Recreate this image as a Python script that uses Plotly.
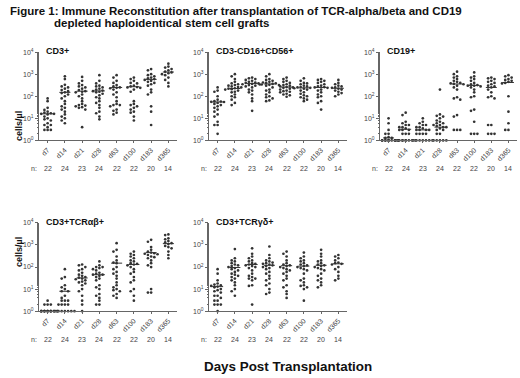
import numpy as np
import plotly.graph_objects as go

W, H = 520, 378
days = ["d7", "d14", "d21", "d28", "d63", "d100", "d183", "d365"]
n_counts = [22, 24, 23, 24, 22, 22, 20, 14]

cd3 = [
    [80, 60, 30, 24, 20, 18, 17, 16, 16, 15, 14, 12, 10, 9, 8, 6, 5, 5, 4, 3, 3, 3],
    [800, 600, 330, 280, 250, 220, 190, 170, 150, 140, 120, 100, 80, 60, 45, 35, 30, 25, 20, 15, 12, 10, 8, 6],
    [750, 500, 380, 320, 280, 250, 220, 190, 170, 160, 150, 120, 100, 80, 60, 45, 40, 38, 35, 32, 30, 25, 4],
    [900, 500, 380, 300, 280, 250, 220, 200, 180, 170, 160, 150, 130, 110, 90, 80, 60, 50, 40, 30, 20, 17, 12, 9],
    [900, 700, 500, 400, 320, 280, 250, 240, 230, 200, 150, 120, 90, 60, 45, 40, 40, 35, 25, 22, 18, 15],
    [700, 600, 500, 400, 380, 300, 280, 260, 250, 240, 200, 160, 60, 45, 40, 35, 30, 25, 20, 18, 12, 8],
    [1700, 1500, 1000, 900, 800, 700, 650, 600, 550, 500, 450, 400, 350, 300, 200, 150, 120, 35, 20, 5],
    [3000, 2200, 2000, 1700, 1500, 1300, 1200, 1100, 1000, 900, 700, 550, 400, 280],
]
cd3_med = [16, 150, 170, 175, 250, 270, 580, 1250]

nk = [
    [250, 180, 160, 100, 70, 60, 58, 56, 55, 50, 45, 40, 35, 30, 25, 20, 15, 12, 7, 5, 5, 2],
    [1000, 800, 600, 450, 380, 350, 320, 300, 280, 260, 250, 230, 220, 210, 200, 180, 160, 150, 120, 100, 90, 70, 50, 40],
    [700, 650, 600, 550, 500, 450, 420, 400, 380, 360, 350, 340, 320, 300, 280, 250, 200, 180, 150, 120, 80, 60, 22],
    [1000, 800, 600, 550, 500, 450, 420, 400, 380, 360, 340, 330, 320, 300, 250, 200, 180, 150, 120, 100, 90, 80, 65, 60],
    [700, 600, 500, 450, 400, 350, 320, 300, 280, 260, 250, 240, 220, 200, 180, 170, 160, 150, 130, 120, 110, 95],
    [650, 500, 400, 380, 350, 300, 280, 260, 250, 240, 230, 220, 200, 180, 150, 130, 110, 100, 90, 80, 70, 60],
    [600, 550, 500, 450, 400, 350, 300, 280, 260, 250, 240, 200, 180, 150, 120, 100, 90, 60, 50, 25],
    [550, 400, 350, 300, 280, 250, 240, 220, 200, 180, 160, 140, 120, 100],
]
nk_med = [55, 225, 380, 360, 260, 240, 250, 230]

cd19 = [
    [10, 6, 3, 2, 2, 1.4, 1.3, 1.3, 1, 1, 1, 1, 1, 1, 1, 1, 1, 1, 1, 1, 1, 1],
    [18, 14, 7, 6, 5, 5, 4, 4, 3.5, 3, 3, 3, 2, 2, 2, 1, 1, 1, 1, 1, 1, 1, 1, 1],
    [10, 7, 6, 5, 5, 4, 4, 3.5, 3, 3, 3, 3, 2, 2, 2, 2, 1, 1, 1, 1, 1, 1, 1],
    [200, 15, 13, 12, 10, 8, 7, 6, 6, 5, 5, 4.5, 4, 4, 3.5, 3, 3, 2, 2, 1, 1, 1, 1, 1],
    [1300, 1000, 800, 700, 600, 500, 450, 400, 380, 360, 350, 300, 250, 200, 90, 80, 70, 14, 12, 3, 3, 3],
    [1200, 800, 700, 600, 500, 400, 350, 320, 300, 300, 280, 250, 200, 150, 100, 90, 25, 22, 7, 2, 2, 2],
    [700, 650, 600, 500, 450, 400, 350, 300, 280, 250, 200, 150, 100, 90, 80, 5, 5, 2, 2, 2],
    [900, 800, 700, 600, 550, 500, 450, 400, 380, 100, 20, 6, 3, 3],
]
cd19_med = [1.3, 3.2, 3, 4, 360, 310, 250, 420]

tab = [
    [3, 2, 2, 2, 1, 1, 1, 1, 1, 1, 1, 1, 1, 1, 1, 1, 1, 1, 1, 1, 1, 1],
    [80, 35, 30, 15, 12, 10, 8, 8, 5, 4, 3, 3, 3, 2, 2, 2, 2, 1, 1, 1, 1, 1, 1, 1],
    [130, 120, 100, 80, 70, 55, 45, 40, 35, 33, 30, 28, 25, 22, 20, 18, 15, 10, 8, 5, 3, 2, 1],
    [180, 120, 100, 100, 90, 80, 70, 55, 50, 45, 45, 40, 35, 30, 25, 15, 12, 10, 6, 5, 4, 3, 2, 2],
    [1200, 600, 500, 300, 200, 160, 150, 100, 80, 60, 50, 40, 30, 20, 15, 12, 10, 9, 8, 6, 5, 4],
    [500, 400, 350, 300, 250, 200, 180, 150, 140, 130, 120, 100, 80, 60, 50, 35, 25, 20, 10, 8, 5, 3],
    [1700, 1400, 800, 600, 500, 450, 420, 400, 380, 350, 300, 280, 250, 200, 150, 120, 100, 10, 7, 7],
    [3000, 2800, 2000, 1800, 1500, 1300, 1200, 1100, 900, 800, 700, 500, 350, 250],
]
tab_med = [1, 8, 32, 45, 150, 130, 450, 1150]

tgd = [
    [80, 50, 25, 18, 16, 15, 14, 13, 12, 10, 9, 8, 7, 5, 5, 4, 3, 3, 2, 2, 2, 1],
    [650, 250, 200, 180, 150, 130, 120, 110, 100, 90, 80, 70, 60, 50, 45, 40, 35, 30, 25, 20, 15, 10, 8, 5],
    [700, 400, 300, 250, 200, 180, 150, 140, 130, 120, 110, 100, 90, 70, 50, 40, 35, 30, 30, 25, 15, 14, 2],
    [850, 350, 250, 200, 180, 160, 150, 140, 130, 120, 110, 100, 90, 80, 60, 50, 40, 30, 25, 18, 15, 10, 7, 6],
    [500, 400, 300, 200, 150, 130, 120, 110, 100, 90, 80, 70, 60, 50, 40, 30, 25, 15, 12, 8, 6, 4],
    [450, 300, 250, 200, 180, 150, 130, 120, 110, 100, 90, 80, 70, 50, 30, 25, 20, 15, 14, 12, 10, 3],
    [600, 400, 300, 200, 180, 150, 130, 120, 110, 100, 90, 80, 70, 50, 40, 30, 25, 20, 15, 12],
    [350, 300, 250, 200, 160, 150, 140, 130, 100, 80, 60, 40, 30, 25],
]
tgd_med = [13, 95, 130, 120, 115, 110, 120, 140]

panel_titles = ["CD3+", "CD3-CD16+CD56+", "CD19+", "CD3+TCR\u03b1\u03b2+", "CD3+TCR\u03b3\u03b4+"]
panel_data = [cd3, nk, cd19, tab, tgd]
panel_meds = [cd3_med, nk_med, cd19_med, tab_med, tgd_med]
# pixel boxes: (left, right, top(10^4), bottom(10^0))
boxes = [(39, 177, 49, 139), (209, 347, 49, 139), (380, 517, 49, 139),
         (39, 177, 223, 313), (209, 347, 223, 313)]

FONT = "Liberation Sans, Arial, sans-serif"
INK = "#333333"
AX = "#666666"

fig = go.Figure()


def swarm(vals, cat_px, dec_px):
    ys = np.log10(np.array(vals, dtype=float)) * dec_px
    order = np.argsort(-ys)
    placed = []
    offs = np.zeros(len(vals))
    cands = [0, -3.2, 3.2, -6.4, 6.4, -9.6, 9.6]
    for i in order:
        best, bestc = 0, 1e9
        for c in cands:
            cnt = sum(1 for (px, py) in placed if abs(px - c) < 3.0 and abs(py - ys[i]) < 2.8)
            if cnt == 0:
                best = c
                break
            if cnt < bestc:
                bestc, best = cnt, c
        placed.append((best, ys[i]))
        offs[i] = best / cat_px
    return offs


annotations = []
for p, (data, meds, box, ttl) in enumerate(zip(panel_data, panel_meds, boxes, panel_titles)):
    l, r, t, b = box
    sfx = "" if p == 0 else str(p + 1)
    xa, ya = "x" + sfx, "y" + sfx
    cat_px = (r - l) / 8.0
    dec_px = (b - t) / 4.0
    xs, ys = [], []
    for i, vals in enumerate(data):
        offs = swarm(vals, cat_px, dec_px)
        xs += list(i + offs)
        ys += list(vals)
    fig.add_trace(go.Scatter(x=xs, y=ys, mode="markers", xaxis=xa, yaxis=ya,
                             marker=dict(size=2.7, color=INK), cliponaxis=False,
                             showlegend=False, hoverinfo="skip"))
    mx, my = [], []
    for i, m in enumerate(meds):
        mx += [i - 0.32, i + 0.32, None]
        my += [m, m, None]
    fig.add_trace(go.Scatter(x=mx, y=my, mode="lines", xaxis=xa, yaxis=ya,
                             line=dict(color=INK, width=1), cliponaxis=False,
                             showlegend=False, hoverinfo="skip"))
    fig.update_layout(**{
        "xaxis" + sfx: dict(domain=[l / W, r / W], anchor=ya, range=[-0.5, 7.5],
                            tickvals=list(range(8)), ticktext=days, tickangle=-45,
                            showline=True, linecolor=AX, linewidth=1, ticks="outside",
                            ticklen=2, tickcolor=AX, showgrid=False, zeroline=False,
                            tickfont=dict(size=7, color="#444", family=FONT)),
        "yaxis" + sfx: dict(domain=[(H - b) / H, (H - t) / H], anchor=xa, type="log",
                            range=[0, 4], tickvals=[1, 10, 100, 1000, 10000],
                            ticktext=["10<sup>0</sup>", "10<sup>1</sup>", "10<sup>2</sup>",
                                      "10<sup>3</sup>", "10<sup>4</sup>"],
                            showline=True, linecolor=AX, linewidth=1, ticks="outside",
                            ticklen=3, tickcolor=AX, showgrid=False, zeroline=False,
                            minor=dict(ticks="outside", ticklen=1.5, tickcolor=AX, showgrid=False),
                            tickfont=dict(size=7, color="#444", family=FONT)),
    })
    annotations.append(dict(x=(l + 5) / W, y=(H - t + 8) / H, xref="paper", yref="paper",
                            xanchor="left", yanchor="top", showarrow=False,
                            text="<b>" + ttl + "</b>",
                            font=dict(size=9, color="#111", family=FONT)))
    ny = (H - (b + 29)) / H
    annotations.append(dict(x=-0.5, y=ny, xref=xa, yref="paper", xanchor="right",
                            yanchor="middle", showarrow=False, text="n:",
                            font=dict(size=7, color="#444", family=FONT)))
    for i, n in enumerate(n_counts):
        annotations.append(dict(x=i, y=ny, xref=xa, yref="paper", xanchor="center",
                                yanchor="middle", showarrow=False, text=str(n),
                                font=dict(size=7, color="#444", family=FONT)))

for yc in (107, 270):
    annotations.append(dict(x=12 / W, y=(H - yc) / H, xref="paper", yref="paper",
                            showarrow=False, textangle=-90, text="<b>cells/\u00b5l</b>",
                            font=dict(size=9, color="#111", family=FONT)))

annotations.append(dict(x=8 / W, y=(H - 7) / H, xref="paper", yref="paper", xanchor="left",
                        yanchor="middle", showarrow=False,
                        text="<b>Figure 1: Immune Reconstitution after transplantation of TCR-alpha/beta and CD19</b>",
                        font=dict(size=11.5, color="#111", family=FONT)))
annotations.append(dict(x=52 / W, y=(H - 19) / H, xref="paper", yref="paper", xanchor="left",
                        yanchor="middle", showarrow=False,
                        text="<b>depleted haploidentical stem cell grafts</b>",
                        font=dict(size=11.5, color="#111", family=FONT)))
annotations.append(dict(x=288 / W, y=(H - 369) / H, xref="paper", yref="paper",
                        xanchor="center", yanchor="middle", showarrow=False,
                        text="<b>Days Post Transplantation</b>",
                        font=dict(size=13.4, color="#111", family=FONT)))

fig.update_layout(width=W, height=H, margin=dict(l=0, r=0, t=0, b=0),
                  paper_bgcolor="white", plot_bgcolor="white",
                  annotations=annotations, font=dict(family=FONT))
fig.write_html("out.html", config={"displayModeBar": False},
               post_script="document.body.style.margin='0';")
